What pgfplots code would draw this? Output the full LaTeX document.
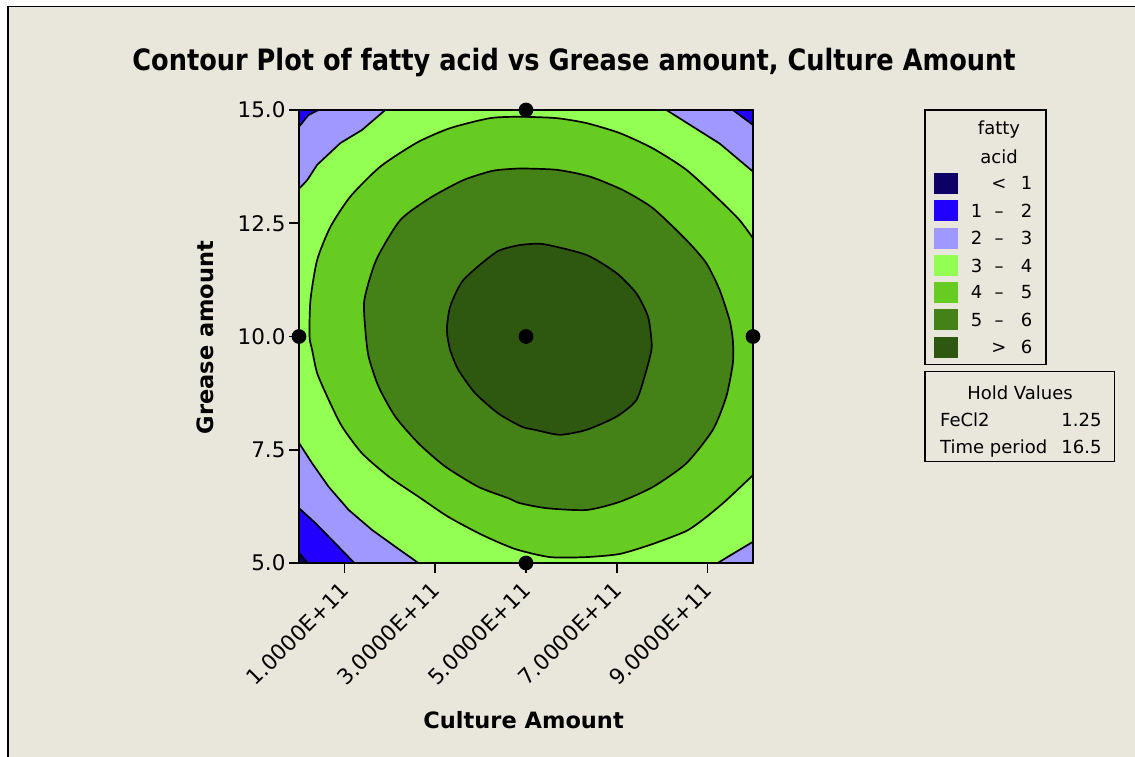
\documentclass[border=0pt]{standalone}
\usepackage{fontspec}
\setmainfont{DejaVu Sans}
\usepackage{graphicx}
\usepackage{pgfplots}
\pgfplotsset{compat=1.18}
\definecolor{bg}{RGB}{233,230,219}
\definecolor{cA}{RGB}{12,0,102}
\definecolor{cB}{RGB}{34,0,255}
\definecolor{cC}{RGB}{159,153,255}
\definecolor{cD}{RGB}{146,255,82}
\definecolor{cE}{RGB}{102,204,34}
\definecolor{cF}{RGB}{68,130,24}
\definecolor{cG}{RGB}{46,88,16}
\begin{document}
\begin{tikzpicture}[x=1pt,y=1pt]
\fill[white] (0,0) rectangle (1135,757);
\fill[bg] (7,0) rectangle (1135,750.5);
\draw[line width=2.3pt] (7.9,0) -- (7.9,750.5);
\draw[line width=1.6pt] (7,750.5) -- (1135,750.5);
\begin{axis}[at={(299pt,194pt)}, anchor=south west,
  width=454pt, height=453pt, scale only axis,
  xmin=0, xmax=10, ymin=5, ymax=15, clip=false, axis on top,
  axis line style={line width=1.8pt},
  tick style={line width=1.6pt, black},
  tick align=outside, major tick length=10pt,
  xtick pos=bottom, ytick pos=left,
  xtick={1,3,5,7,9},
  xticklabels={1.0000E+11,3.0000E+11,5.0000E+11,7.0000E+11,9.0000E+11},
  ytick={5,7.5,10,12.5,15},
  yticklabels={5.0,7.5,10.0,12.5,15.0},
  xticklabel style={xshift=3pt, yshift=-11pt, rotate=45, anchor=east, font=\fontsize{21.5}{21.5}\selectfont},
  yticklabel style={font=\fontsize{21.5}{21.5}\selectfont},
  every axis plot/.append style={line width=1.7pt}]
% 3-4 background
\addplot[fill=cD, draw=none] coordinates {(0,5) (10,5) (10,15) (0,15)} -- cycle;
% corners 2-3
\addplot[fill=cC, draw=black] coordinates {(0,15) (1.90,15) (1.389,14.56) (0.912,14.27) (0.400,13.79) (0.180,13.45) (0,13.26)} -- cycle;
\addplot[fill=cC, draw=black] coordinates {(8.092,15) (8.677,14.63) (9.264,14.26) (10,13.64) (10,15)} -- cycle;
\addplot[fill=cC, draw=black] coordinates {(0,5) (0,7.65) (0.290,7.20) (0.655,6.68) (1.095,6.17) (1.609,5.73) (2.121,5.36) (2.63,5)} -- cycle;
\addplot[fill=cC, draw=black] coordinates {(9.22,5) (10,5.47) (10,5)} -- cycle;
% corners 1-2
\addplot[fill=cB, draw=black] coordinates {(0,15) (0.429,15) (0.209,14.89) (0,14.63)} -- cycle;
\addplot[fill=cB, draw=black] coordinates {(9.556,15) (10,14.67) (10,15)} -- cycle;
\addplot[fill=cB, draw=black] coordinates {(0,5) (0,6.21) (0.363,5.88) (0.802,5.43) (1.22,5)} -- cycle;
% < 1
\addplot[fill=cA, draw=black] coordinates {(0,5) (0,5.22) (0.19,5)} -- cycle;
% 4-5
\addplot[fill=cE, draw=black, smooth, tension=0.4] coordinates {
(10,12.17) (9.703,12.57) (9.264,13.01) (8.532,13.68) (7.798,14.15) (7.066,14.49)
(6.334,14.71) (5.675,14.82) (4.868,14.85) (4.209,14.82) (3.330,14.60) (2.598,14.28)
(1.791,13.75) (1.132,13.09) (0.692,12.42) (0.400,11.69) (0.253,10.81) (0.231,10.01)
(0.290,9.70) (0.400,9.19) (0.655,8.60) (0.949,8.01) (1.389,7.42) (1.974,6.91)
(2.637,6.46) (3.286,6.02) (4.033,5.62) (4.758,5.31) (5.527,5.13) (6.319,5.13)
(7.066,5.20) (7.791,5.42) (8.538,5.71) (8.978,6.02) (9.418,6.39) (10,6.94)} -- cycle;
% 5-6
\addplot[fill=cF, draw=black, smooth, tension=0.4] coordinates {
(4.868,13.71) (5.675,13.68) (6.407,13.53) (7.138,13.23) (7.798,12.83) (8.532,12.13)
(8.971,11.62) (9.264,11.03) (9.484,10.36) (9.556,9.92) (9.556,9.41) (9.411,8.67)
(9.116,7.94) (8.532,7.20) (7.798,6.68) (7.066,6.35) (6.334,6.17) (5.455,6.21)
(4.868,6.32) (4.611,6.43) (3.952,6.68) (3.220,7.13) (2.633,7.64) (2.121,8.23)
(1.754,8.89) (1.534,9.55) (1.462,10.14) (1.44,10.81) (1.701,11.69) (2.231,12.57)
(2.890,13.06) (3.615,13.45) (4.275,13.66) (4.868,13.71)} -- cycle;
% > 6
\addplot[fill=cG, draw=black, smooth, tension=0.4] coordinates {
(4.868,12.02) (5.380,12.04) (6.334,11.80) (6.993,11.40) (7.433,10.95) (7.688,10.44)
(7.763,9.92) (7.763,9.70) (7.653,9.26) (7.433,8.60) (6.993,8.23) (6.334,7.94)
(5.747,7.83) (5.198,7.94) (4.905,8.01) (4.391,8.30) (3.879,8.75) (3.512,9.26)
(3.330,9.70) (3.257,10.14) (3.330,10.66) (3.622,11.25) (4.356,11.87) (4.868,12.02)} -- cycle;
% design points
\addplot[only marks, mark=*, mark size=6.5pt, black] coordinates {(0,10) (5,15) (5,10) (5,5) (10,10)};
\end{axis}
% axis labels
\node[anchor=base, inner sep=0pt] at (523.6,28) {\fontsize{22.5}{22.5}\selectfont\bfseries Culture Amount};
\node[anchor=base, rotate=90, inner sep=0pt] at (213,419.5) {\fontsize{22.5}{22.5}\selectfont\bfseries Grease amount};
% title
\node[anchor=base, inner sep=0pt] at (574,686) {\scalebox{0.915}[1.05]{\fontsize{28}{28}\selectfont\bfseries Contour Plot of fatty acid vs Grease amount, Culture Amount}};
% legend
\draw[line width=1.5pt] (925,647) rectangle (1046,392.7);
\begin{scope}[every node/.style={inner sep=0pt, font=\fontsize{18}{18}\selectfont}]
\node[anchor=base] at (999,622) {fatty};
\node[anchor=base] at (999,593.7) {acid};
\fill[cA] (934,563.05) rectangle (958,584.35);
\fill[cB] (934,535.65) rectangle (958,556.95);
\fill[cC] (934,508.05) rectangle (958,529.35);
\fill[cD] (934,480.65) rectangle (958,501.95);
\fill[cE] (934,454.15) rectangle (958,475.45);
\fill[cF] (934,426.85) rectangle (958,448.15);
\fill[cG] (934,399.15) rectangle (958,420.45);
\node[anchor=base] at (999,567.1) {<};
\node[anchor=base] at (1026.7,567.1) {1};
\node[anchor=base] at (976.7,539.7) {1};
\node[anchor=base] at (999,539.7) {–};
\node[anchor=base] at (1026.7,539.7) {2};
\node[anchor=base] at (976.7,512.1) {2};
\node[anchor=base] at (999,512.1) {–};
\node[anchor=base] at (1026.7,512.1) {3};
\node[anchor=base] at (976.7,484.7) {3};
\node[anchor=base] at (999,484.7) {–};
\node[anchor=base] at (1026.7,484.7) {4};
\node[anchor=base] at (976.7,458.2) {4};
\node[anchor=base] at (999,458.2) {–};
\node[anchor=base] at (1026.7,458.2) {5};
\node[anchor=base] at (976.7,430.9) {5};
\node[anchor=base] at (999,430.9) {–};
\node[anchor=base] at (1026.7,430.9) {6};
\node[anchor=base] at (999,403.2) {>};
\node[anchor=base] at (1026.7,403.2) {6};
\draw[line width=1.5pt] (925,385.3) rectangle (1114.3,295.3);
\node[anchor=base] at (1020,357) {Hold Values};
\node[anchor=base west] at (940,330.3) {FeCl2};
\node[anchor=base east] at (1101.7,330.3) {1.25};
\node[anchor=base west] at (940,303) {Time period};
\node[anchor=base east] at (1101.7,303) {16.5};
\end{scope}
\pgfresetboundingbox
\path (0,0) rectangle (1135,757);
\end{tikzpicture}
\end{document}
